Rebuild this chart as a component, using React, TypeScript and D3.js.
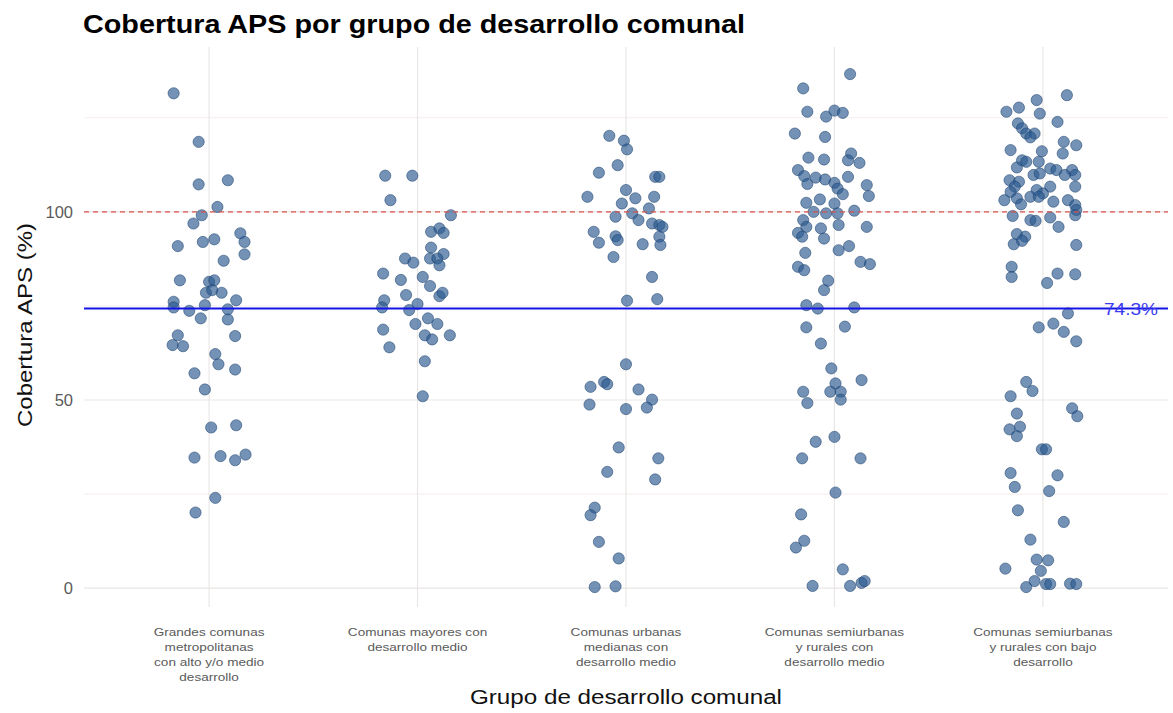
import React from "react";
import * as d3 from "d3";

// categories (x axis), one label line per entry
const groupLabels = [
  ["Grandes comunas", "metropolitanas", "con alto y/o medio", "desarrollo"],
  ["Comunas mayores con", "desarrollo medio"],
  ["Comunas urbanas", "medianas con", "desarrollo medio"],
  ["Comunas semiurbanas", "y rurales con", "desarrollo medio"],
  ["Comunas semiurbanas", "y rurales con bajo", "desarrollo"],
];

// coverage values (%) per group
const g1Values = [131.5, 118.6, 107.3, 108.4, 101.3, 99.1, 96.9, 94.3, 92.0, 88.7, 90.9, 92.0, 92.7, 87.0, 81.8, 81.4, 81.8, 78.5, 78.5, 79.2, 76.5, 76.1, 74.6, 73.7, 75.2, 74.1, 71.7, 71.4, 67.2, 67.0, 64.6, 64.3, 62.2, 59.5, 58.1, 57.1, 52.8, 42.7, 43.3, 34.7, 35.1, 34.0, 35.5, 24.0, 20.1];
const g1Jitter = [-0.17, -0.05, -0.05, 0.09, 0.04, -0.035, -0.075, 0.15, 0.17, 0.17, -0.15, -0.03, 0.025, 0.07, -0.14, 0.0, 0.025, -0.015, 0.06, 0.015, 0.13, -0.17, -0.17, -0.095, -0.02, 0.09, -0.04, 0.09, -0.15, 0.125, -0.175, -0.125, 0.03, 0.045, 0.125, -0.07, -0.02, 0.01, 0.13, -0.07, 0.055, 0.125, 0.175, 0.03, -0.065];

const g2Values = [109.6, 109.6, 103.1, 99.1, 94.7, 95.6, 94.4, 90.5, 88.8, 87.6, 87.6, 85.8, 87.6, 86.5, 83.6, 81.9, 82.7, 80.3, 77.6, 78.5, 77.9, 76.5, 74.6, 75.5, 73.9, 71.7, 70.2, 70.2, 68.7, 67.2, 66.1, 67.2, 64.0, 60.3, 51.0];
const g2Jitter = [-0.155, -0.025, -0.13, 0.16, 0.065, 0.105, 0.125, 0.065, 0.125, 0.06, 0.095, 0.105, -0.06, -0.02, -0.165, -0.08, 0.025, 0.06, 0.105, 0.12, -0.055, -0.16, -0.17, 0.0, -0.04, 0.05, 0.095, -0.01, -0.165, 0.035, 0.07, 0.155, -0.135, 0.035, 0.025];

const g3Values = [120.2, 118.9, 116.6, 112.4, 110.4, 109.3, 109.3, 104.0, 105.8, 104.0, 103.6, 102.2, 100.9, 98.7, 99.6, 97.8, 96.9, 96.5, 96.0, 93.4, 91.2, 94.7, 91.8, 93.5, 92.5, 91.4, 88.0, 82.7, 76.4, 76.8, 59.5, 53.5, 54.8, 54.2, 52.8, 50.1, 48.0, 48.8, 47.6, 37.4, 34.5, 28.9, 30.9, 21.4, 19.4, 12.3, 7.9, 0.3, 0.5];
const g3Jitter = [-0.08, -0.01, 0.005, -0.04, -0.13, 0.14, 0.16, -0.185, 0.0, 0.135, 0.045, -0.02, 0.11, -0.05, 0.03, 0.06, 0.125, 0.16, 0.175, 0.16, 0.165, -0.155, -0.13, -0.05, -0.04, 0.08, -0.06, 0.125, 0.005, 0.15, 0.0, -0.17, -0.105, -0.09, 0.06, 0.125, 0.1, -0.175, 0.0, -0.035, 0.155, 0.14, -0.09, -0.15, -0.17, -0.13, -0.035, -0.15, -0.05];

const g4Values = [136.6, 132.8, 126.6, 125.3, 126.9, 126.3, 120.8, 119.9, 114.4, 113.9, 115.5, 113.7, 113.0, 111.1, 109.5, 109.1, 108.6, 107.7, 109.3, 107.4, 106.2, 104.7, 107.1, 104.2, 102.4, 103.3, 102.2, 100.0, 99.6, 99.6, 100.3, 97.8, 96.0, 94.4, 93.4, 95.6, 92.9, 96.5, 96.0, 89.1, 89.8, 90.9, 85.4, 84.5, 86.7, 86.1, 81.7, 79.2, 75.2, 74.3, 74.6, 69.3, 69.5, 65.0, 58.4, 55.3, 52.2, 49.2, 54.4, 52.2, 52.2, 50.1, 38.9, 40.2, 34.5, 34.5, 25.4, 19.6, 12.6, 10.8, 5.0, 0.6, 0.6, 1.4, 1.9];
const g4Jitter = [0.075, -0.15, -0.13, -0.04, 0.0, 0.04, -0.19, -0.045, -0.125, -0.05, 0.08, 0.065, 0.12, -0.175, -0.145, -0.09, -0.045, 0.0, 0.065, -0.13, 0.015, 0.04, 0.155, 0.165, -0.135, -0.07, 0.0, -0.1, -0.04, 0.015, 0.095, -0.15, -0.135, -0.175, -0.155, -0.065, -0.05, 0.02, 0.155, -0.14, 0.02, 0.07, -0.175, -0.145, 0.125, 0.17, -0.03, -0.05, -0.135, -0.08, 0.095, -0.135, 0.05, -0.065, -0.015, 0.13, -0.15, -0.13, 0.005, -0.02, 0.03, 0.03, -0.09, 0.0, -0.155, 0.125, 0.005, -0.16, -0.145, -0.185, 0.04, -0.105, 0.075, 0.13, 0.145];

const g5Values = [131.0, 129.7, 127.7, 126.6, 126.1, 123.9, 123.5, 122.2, 120.8, 120.8, 119.8, 118.6, 117.7, 116.4, 116.1, 115.5, 113.7, 113.3, 113.3, 111.8, 111.5, 111.1, 111.1, 109.8, 109.8, 109.8, 110.2, 108.4, 108.0, 106.7, 106.7, 106.7, 105.8, 105.3, 104.9, 104.0, 104.0, 103.1, 103.6, 102.7, 103.1, 101.8, 102.0, 100.5, 98.9, 97.8, 97.6, 98.5, 96.0, 99.1, 94.1, 93.4, 91.4, 92.3, 91.2, 85.4, 82.7, 83.6, 83.4, 81.1, 73.0, 70.3, 69.3, 68.1, 65.6, 54.8, 52.4, 51.0, 47.8, 45.7, 46.4, 42.9, 42.2, 40.4, 36.9, 36.9, 30.6, 30.0, 26.9, 25.8, 20.7, 17.6, 12.9, 5.2, 7.6, 7.4, 4.6, 0.3, 1.9, 1.1, 1.1, 1.2, 1.1];
const g5Jitter = [0.115, -0.03, -0.115, -0.175, -0.015, 0.07, -0.12, -0.1, -0.08, -0.04, -0.06, 0.1, 0.16, -0.155, -0.005, 0.095, -0.1, -0.08, -0.02, -0.125, 0.035, 0.065, 0.14, 0.155, 0.105, -0.045, -0.015, -0.16, -0.115, -0.135, 0.155, 0.035, -0.03, -0.155, 0.0, -0.06, -0.02, -0.185, -0.125, 0.05, 0.12, 0.155, -0.105, 0.16, -0.145, -0.06, -0.035, 0.035, 0.075, 0.155, -0.125, -0.085, -0.14, -0.1, 0.16, -0.15, -0.15, 0.07, 0.155, 0.02, 0.12, 0.05, -0.02, 0.1, 0.16, -0.08, -0.05, -0.155, 0.14, 0.165, -0.125, -0.11, -0.16, -0.125, -0.005, 0.015, -0.155, 0.07, -0.135, 0.03, -0.12, 0.1, -0.06, -0.18, -0.03, 0.025, -0.01, -0.08, -0.04, 0.015, 0.035, 0.13, 0.16];

const groupValues = [g1Values, g2Values, g3Values, g4Values, g5Values];
const groupJitter = [g1Jitter, g2Jitter, g3Jitter, g4Jitter, g5Jitter];

const yTicks = [0, 50, 100];
const yMinor = [25, 75, 125];
const meanValue = 74.3;
const targetValue = 100;

export default function App() {
  const W = 1173, H = 713;
  const left = 84, right = 1168, top = 47, bottom = 607;

  // discrete positions 1..5 with ggplot style 0.6 expansion
  const x = d3.scaleLinear().domain([0.4, 5.6]).range([left, right]);
  const y = d3.scaleLinear().domain([-5, 143.8]).range([bottom, top]);

  const points = groupValues.flatMap((vals, gi) =>
    vals.map((v, i) => ({ gx: gi + 1 + groupJitter[gi][i], v }))
  );

  const font = "'Liberation Sans', Arial, sans-serif";

  return (
    <svg width={W} height={H} style={{ position: "absolute", left: 0, top: 0, background: "#fff" }} fontFamily={font}>
      {/* minor grid */}
      {yMinor.map(t => (
        <line key={"m" + t} x1={left} x2={right} y1={y(t)} y2={y(t)} stroke="#f4ecec" strokeWidth={1} />
      ))}
      {yTicks.map(t => (
        <line key={"g" + t} x1={left} x2={right} y1={y(t)} y2={y(t)} stroke="#ebe6e6" strokeWidth={1.2} />
      ))}
      {groupLabels.map((_, i) => (
        <line key={"v" + i} x1={x(i + 1)} x2={x(i + 1)} y1={top} y2={bottom} stroke="#ebe6e6" strokeWidth={1.2} />
      ))}

      {/* y tick labels */}
      {yTicks.map(t => (
        <text key={"t" + t} x={left - 11} y={y(t)} dy="0.36em" textAnchor="end" fontSize={16.5} fill="#5a5a5a">{t}</text>
      ))}

      {/* points */}
      {points.map((p, i) => (
        <circle key={i} cx={x(p.gx)} cy={y(p.v)} r={5.6}
          fill="#2a5a90" fillOpacity={0.66} stroke="#1f4470" strokeOpacity={0.55} strokeWidth={1} />
      ))}

      {/* reference lines */}
      <line x1={left} x2={right} y1={y(targetValue)} y2={y(targetValue)} stroke="#d9534f" strokeWidth={1.2} strokeDasharray="5,4" />
      <line x1={left} x2={right} y1={y(meanValue)} y2={y(meanValue)} stroke="#1414e6" strokeWidth={2} />
      <text x={1104} y={y(meanValue)} dy="0.4em" fontSize={16} fill="#3a3aee" textLength={54} lengthAdjust="spacingAndGlyphs">{meanValue.toFixed(1)}%</text>

      {/* x tick labels, slightly widened like the source */}
      {groupLabels.map((lines, i) => (
        <g key={"x" + i} transform={`translate(${x(i + 1)},636) scale(1.18,1)`}>
          <text x={0} y={0} textAnchor="middle" fontSize={11.5} fill="#5a5a5a">
            {lines.map((l, j) => (
              <tspan key={j} x={0} dy={j === 0 ? 0 : 15}>{l}</tspan>
            ))}
          </text>
        </g>
      ))}

      {/* titles */}
      <text x={83} y={33} fontSize={25} fontWeight="bold" fill="#000" textLength={662} lengthAdjust="spacingAndGlyphs">Cobertura APS por grupo de desarrollo comunal</text>
      <text x={470} y={704} fontSize={20} fill="#111" textLength={312} lengthAdjust="spacingAndGlyphs">Grupo de desarrollo comunal</text>
      <text transform={`translate(32,427) rotate(-90)`} fontSize={21} fill="#111" textLength={204} lengthAdjust="spacingAndGlyphs">Cobertura APS (%)</text>
    </svg>
  );
}
